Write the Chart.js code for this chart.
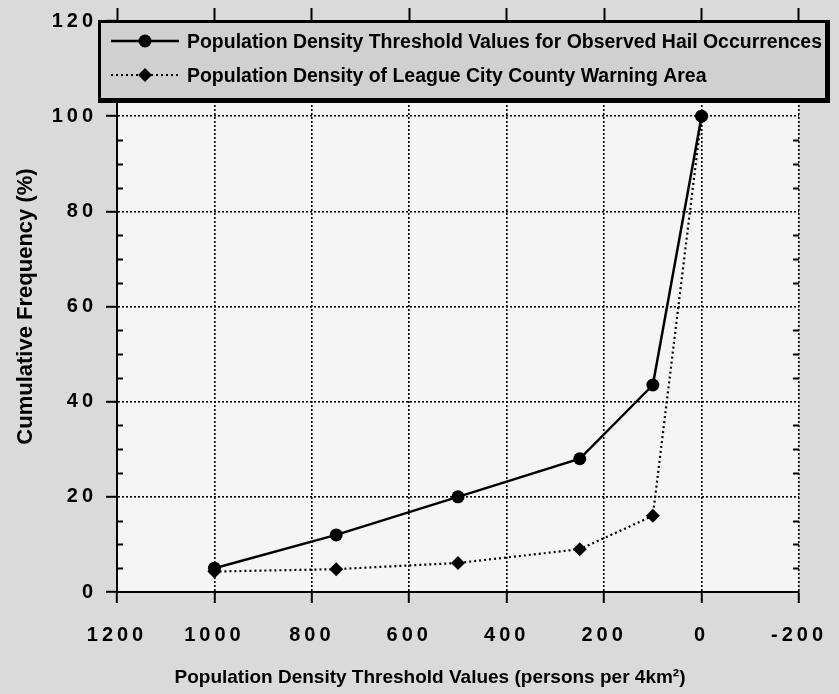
<!DOCTYPE html>
<html><head><meta charset="utf-8">
<script src="https://cdn.jsdelivr.net/npm/chart.js@4/dist/chart.umd.min.js"></script>
<style>
html,body{margin:0;padding:0;background:#dadada;}
canvas{display:block}
</style></head><body>
<canvas id="c" width="839" height="694"></canvas>
<script>
const seriesNames = ['Population Density Threshold Values for Observed Hail Occurrences',
                     'Population Density of League City County Warning Area'];
const hailX = [1000, 750, 500, 250, 100, 0];
const hailY = [5, 12, 20, 28, 43.5, 100];
const areaX = [1000, 750, 500, 250, 100, 0];
const areaY = [4.3, 4.8, 6.1, 9, 16, 100];
const xTicks = [1200, 1000, 800, 600, 400, 200, 0, -200];
const yTicks = [0, 20, 40, 60, 80, 100, 120];
const yMinorStep = 5;
const xTitle = 'Population Density Threshold Values (persons per 4km²)';
const yTitle = 'Cumulative Frequency (%)';

const FONT = "'Liberation Sans', Arial, sans-serif";

const bgPlugin = {
  id: 'bg',
  beforeDraw(chart) {
    const {ctx, chartArea: a} = chart;
    ctx.save();
    ctx.fillStyle = '#dadada';
    ctx.fillRect(0, 0, chart.width, chart.height);
    ctx.fillStyle = '#f5f5f5';
    ctx.fillRect(a.left, a.top, a.right - a.left, a.bottom - a.top);
    ctx.restore();
    ['x', 'y'].forEach(id => {
      const s = chart.scales[id];
      if (s && !s._ls) {
        const orig = s.drawLabels.bind(s);
        s.drawLabels = (ca) => { chart.ctx.save(); chart.ctx.letterSpacing = '4px'; orig(ca); chart.ctx.restore(); };
        s._ls = true;
      }
    });
    const xs = chart.scales.x;
    if (xs && !xs._ts) {
      const origT = xs.drawTitle.bind(xs);
      xs.drawTitle = () => { chart.ctx.save(); chart.ctx.translate(-28, 0); origT(); chart.ctx.restore(); };
      xs._ts = true;
    }
  }
};

const minorPlugin = {
  id: 'minor',
  afterDatasetsDraw(chart) {
    const {ctx} = chart;
    const ys = chart.scales.y, xs = chart.scales.x;
    const l = xs.getPixelForValue(xTicks[0]);
    const r = xs.getPixelForValue(xTicks[xTicks.length - 1]);
    ctx.save();
    ctx.strokeStyle = '#000';
    ctx.lineWidth = 2;
    for (let v = yTicks[0]; v <= yTicks[yTicks.length - 1]; v += yMinorStep) {
      if (v % 20 === 0) continue;
      const y = Math.round(ys.getPixelForValue(v)) + 0.5;
      ctx.beginPath();
      ctx.moveTo(l, y); ctx.lineTo(l + 6, y);
      ctx.moveTo(r, y); ctx.lineTo(r - 6, y);
      ctx.stroke();
    }
    ctx.restore();
  }
};

const legendPlugin = {
  id: 'boxLegend',
  afterDraw(chart) {
    const {ctx, chartArea: a} = chart;
    const L = a.left - 19, T = a.top - 1, R = 830, B = 103;
    ctx.save();
    ctx.fillStyle = '#000';
    ctx.fillRect(L, T, R - L, B - T);
    ctx.fillStyle = '#d0d0d0';
    ctx.fillRect(L + 3, T + 3, R - L - 8, B - T - 8);
    const rows = [T + 21, T + 55];
    ctx.font = 'bold 20px ' + FONT;
    const textX = L + 89;
    const k = (R - 8 - textX) / ctx.measureText(seriesNames[0]).width;
    chart.data.datasets.forEach((ds, i) => {
      const y = rows[i];
      ctx.strokeStyle = ds.borderColor;
      ctx.lineWidth = ds.borderWidth;
      ctx.setLineDash(ds.borderDash || []);
      ctx.beginPath(); ctx.moveTo(L + 13, y); ctx.lineTo(L + 81, y); ctx.stroke();
      ctx.setLineDash([]);
      const mx = L + 47;
      ctx.fillStyle = '#000';
      ctx.beginPath();
      if (ds.pointStyle === 'circle') {
        ctx.arc(mx, y, ds.pointRadius, 0, Math.PI * 2);
      } else {
        const r = ds.pointRadius;
        ctx.moveTo(mx, y - r); ctx.lineTo(mx + r, y); ctx.lineTo(mx, y + r); ctx.lineTo(mx - r, y); ctx.closePath();
      }
      ctx.fill();
      ctx.save();
      ctx.translate(textX, y + 1);
      ctx.scale(k, 1);
      ctx.fillStyle = '#000';
      ctx.textBaseline = 'middle';
      ctx.textAlign = 'left';
      ctx.fillText(seriesNames[i], 0, 0);
      ctx.restore();
    });
    ctx.restore();
  }
};

const tickSetter = (vals) => (s) => { s.ticks = vals.map(v => ({value: v})); };

new Chart(document.getElementById('c'), {
  type: 'scatter',
  data: {
    datasets: [
      {
        label: seriesNames[0],
        data: hailX.map((x, i) => ({x, y: hailY[i]})),
        showLine: true,
        borderColor: '#000', backgroundColor: '#000',
        borderWidth: 2.5,
        pointStyle: 'circle', pointRadius: 6.5,
        pointBackgroundColor: '#000', pointBorderColor: '#000', pointBorderWidth: 0,
        tension: 0
      },
      {
        label: seriesNames[1],
        data: areaX.map((x, i) => ({x, y: areaY[i]})),
        showLine: true,
        borderColor: '#000', backgroundColor: '#000',
        borderWidth: 2.2, borderDash: [2, 3],
        pointStyle: 'rectRot', pointRadius: 7,
        pointBackgroundColor: '#000', pointBorderColor: '#000', pointBorderWidth: 0,
        tension: 0
      }
    ]
  },
  options: {
    responsive: false,
    animation: false,
    devicePixelRatio: 1,
    layout: {padding: {left: 0, right: 36, top: 0, bottom: 0}},
    plugins: {legend: {display: false}, tooltip: {enabled: false}},
    scales: {
      x: {
        type: 'linear', position: 'bottom', min: -200, max: 1200, reverse: true,
        afterBuildTicks: tickSetter(xTicks),
        afterFit: (s) => { s.height = 102; },
        ticks: {callback: (v) => String(v), color: '#000', font: {family: FONT, size: 20, weight: 'bold'}, padding: 20, maxRotation: 0, autoSkip: false},
        grid: {color: '#000', lineWidth: 1.6, tickLength: 11, tickColor: '#000', tickWidth: 2},
        border: {display: true, color: '#000', width: 2, dash: [2, 2]},
        title: {display: true, text: xTitle, color: '#000', font: {family: FONT, size: 19, weight: 'bold'}, padding: {top: 0, bottom: 5}}
      },
      x2: {
        type: 'linear', position: 'top', min: -200, max: 1200, reverse: true,
        afterBuildTicks: tickSetter(xTicks),
        afterFit: (s) => { s.height = 21; },
        ticks: {display: false},
        grid: {drawOnChartArea: false, tickLength: 13, tickColor: '#000', tickWidth: 2},
        border: {display: false}
      },
      y: {
        type: 'linear', position: 'left', min: 0, max: 120,
        afterBuildTicks: tickSetter(yTicks),
        afterFit: (s) => { s.width = 117; },
        ticks: {callback: (v) => String(v), color: '#000', font: {family: FONT, size: 20, weight: 'bold'}, padding: 9},
        grid: {color: '#000', lineWidth: 1.6, tickLength: 11, tickColor: '#000', tickWidth: 2},
        border: {display: true, color: '#000', width: 2, dash: [2, 2]},
        title: {display: true, text: yTitle, color: '#000', font: {family: FONT, size: 22, weight: 'bold'}, padding: {top: 13, bottom: 0}}
      }
    }
  },
  plugins: [bgPlugin, minorPlugin, legendPlugin]
});
</script>
</body></html>
